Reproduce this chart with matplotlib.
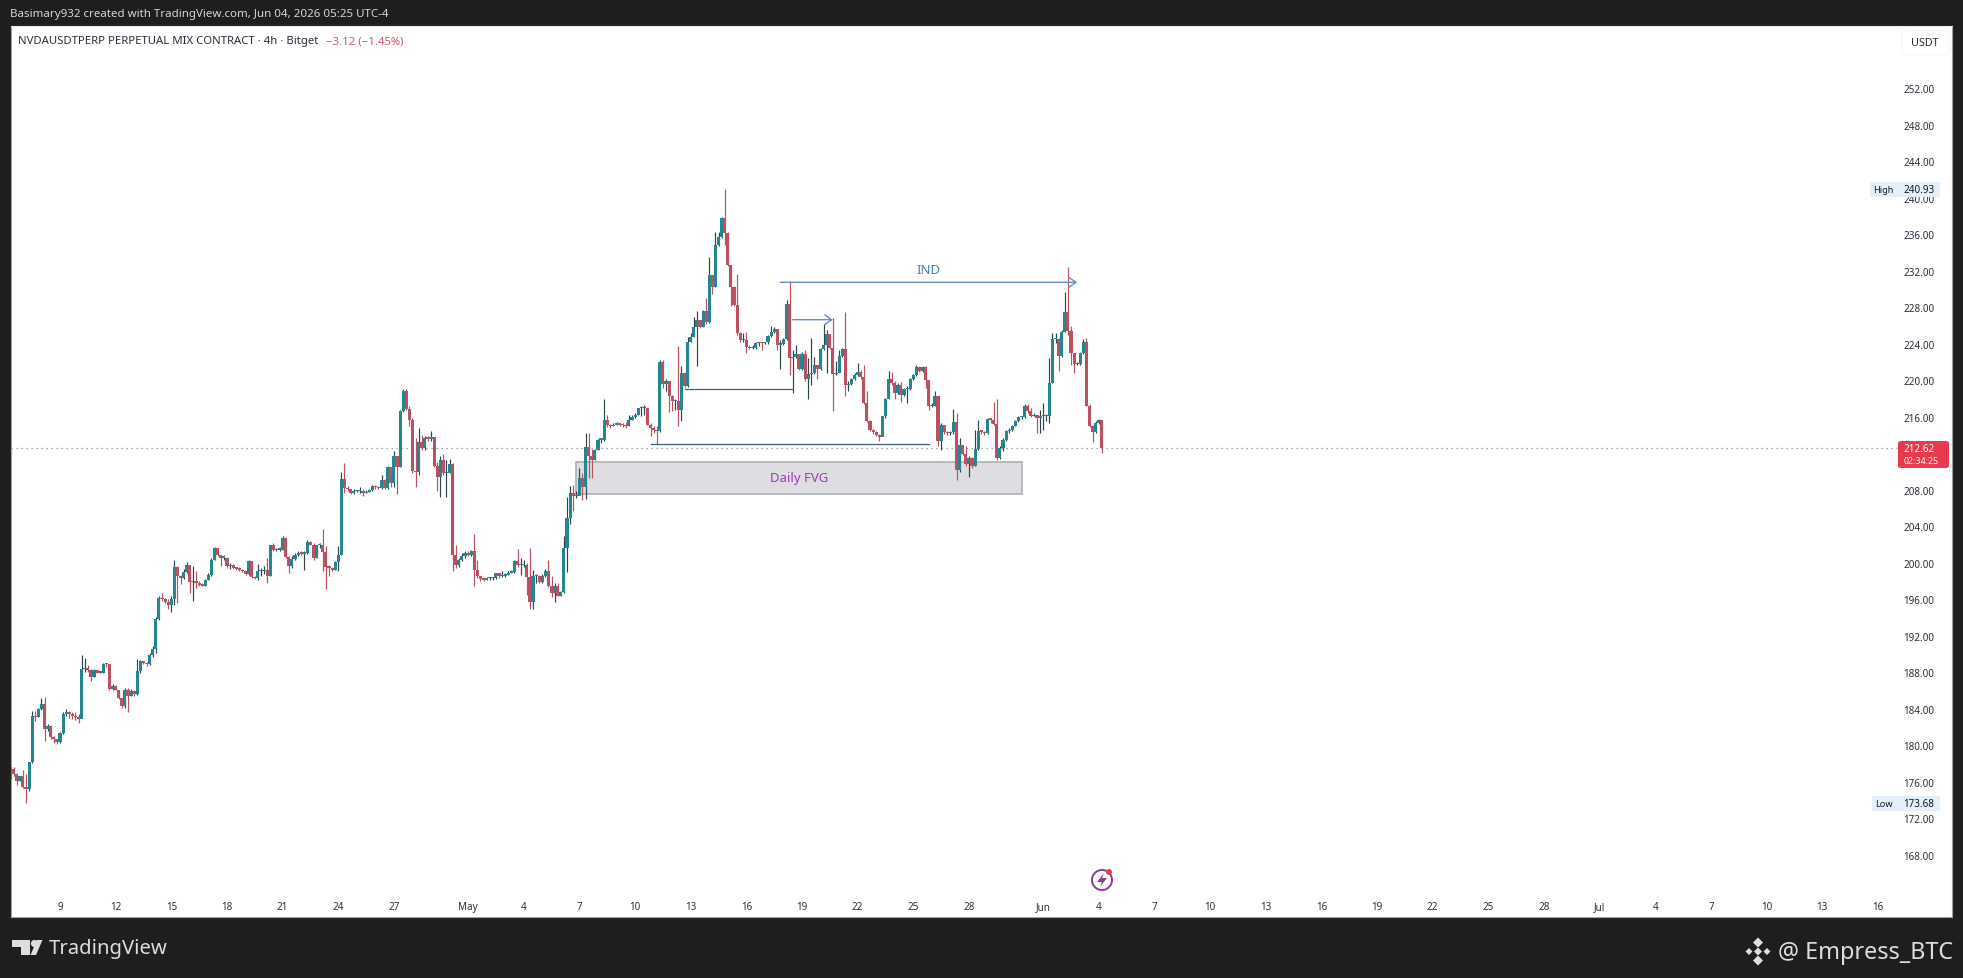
import numpy as np
import pandas as pd
import matplotlib
matplotlib.use("Agg")
import matplotlib.pyplot as plt
import matplotlib.dates as mdates
from matplotlib.patches import Rectangle, FancyBboxPatch, Circle, Polygon

first_open = 178.1
closes = [
177.55,177.4,176.8,176.1,176.6,175.4,175.2,178.1,183.2,183.1,184.0,184.5,181.75,182.1,180.85,180.65,180.3,181.3,183.4,183.65,
183.4,183.2,183.1,182.9,188.3,188.5,188.25,187.5,188.25,187.95,187.95,188.9,188.85,186.2,186.5,186.1,185.2,184.3,186.05,185.4,
185.95,185.6,188.15,189.25,189.0,188.85,189.85,190.5,193.8,196.15,196.0,195.7,195.4,196.0,199.55,198.55,198.35,199.0,199.7,197.9,
198.0,197.75,197.6,197.5,198.15,198.7,200.35,201.65,200.9,200.55,200.55,199.65,199.8,199.45,199.35,199.25,199.1,198.8,200.2,198.45,
198.35,199.1,199.1,199.25,198.55,201.95,201.4,201.45,201.45,202.75,200.65,199.65,200.45,200.9,201.1,201.0,201.1,202.3,202.0,200.55,
201.9,202.0,201.2,199.5,199.45,199.25,200.05,200.9,209.2,208.2,208.05,207.6,207.85,207.85,207.85,207.65,207.75,207.95,208.4,208.3,
208.2,209.1,208.2,210.5,208.7,211.75,210.5,216.6,218.8,216.85,215.6,210.05,209.9,213.2,212.6,213.7,213.6,213.8,210.65,209.4,
211.3,209.85,209.85,210.85,200.8,199.7,200.35,200.7,201.1,200.9,201.25,199.25,198.55,198.25,198.15,198.3,198.3,198.3,198.9,198.5,
198.6,198.7,198.9,199.0,200.2,199.7,199.7,199.7,198.45,195.7,198.55,198.55,197.9,198.55,199.1,197.45,196.7,197.5,196.4,196.75,
201.6,204.9,207.7,207.3,207.35,209.3,208.3,212.7,211.65,211.25,212.4,213.5,213.5,215.6,215.05,214.95,215.15,215.25,215.15,215.05,
214.95,215.7,216.0,216.25,216.95,216.95,216.95,215.15,214.75,214.6,214.4,222.0,219.65,219.9,218.25,217.7,217.7,216.7,220.85,219.35,
224.15,224.8,225.85,226.65,225.85,227.55,226.35,231.55,230.2,234.85,235.75,237.75,236.15,232.65,230.2,228.3,225.2,224.4,224.45,223.65,
223.55,223.55,224.1,224.15,224.1,224.15,224.9,225.35,225.6,223.9,224.0,224.5,228.35,222.45,222.55,222.9,221.25,222.9,220.15,220.7,
220.85,221.65,221.25,223.4,223.9,225.1,223.55,220.7,220.85,222.7,223.4,219.5,219.65,220.15,220.6,220.9,220.35,217.5,215.5,214.6,
214.3,214.05,213.8,216.05,217.95,220.15,219.7,218.6,219.5,218.4,219.05,219.05,220.15,220.6,221.45,221.0,221.45,220.0,217.15,217.2,
218.3,213.3,215.15,214.3,214.2,214.3,215.4,210.15,212.95,211.95,210.85,211.5,210.6,212.5,214.5,214.3,214.2,215.75,215.7,215.25,
211.5,212.6,213.5,214.4,214.6,215.0,215.5,215.95,215.95,217.15,216.6,216.1,216.15,215.85,216.1,216.1,216.1,219.75,224.5,224.5,
222.7,225.35,227.5,225.45,223.0,221.8,221.8,223.0,224.25,217.2,214.95,214.3,215.3,215.6,212.62]
highs = [
178.3,177.6,177.6,177.0,176.6,177.3,176.8,178.1,183.75,183.75,184.1,185.2,185.3,182.3,182.1,180.95,180.7,181.4,183.6,183.95,
183.75,183.65,183.6,183.4,189.85,189.6,188.75,188.4,188.3,188.25,188.1,189.0,189.0,188.85,186.65,186.55,186.1,185.2,186.3,186.3,
186.2,186.1,189.5,189.35,189.25,189.1,190.05,190.9,194.1,196.3,196.7,196.15,196.0,196.35,200.35,199.65,198.7,199.3,200.05,199.7,
199.65,199.05,198.0,197.8,198.25,198.9,200.55,201.7,201.65,200.9,200.8,200.65,200.0,199.9,199.55,199.5,199.35,199.1,200.25,200.2,
198.6,199.9,199.45,199.65,200.55,202.0,202.2,201.65,201.75,202.9,202.85,200.7,200.7,201.1,201.25,201.25,201.25,202.5,202.35,202.2,
202.0,202.2,203.65,201.8,199.7,199.55,200.2,201.8,209.9,210.9,208.4,208.1,208.05,208.0,208.3,208.05,207.95,208.1,208.55,208.55,
208.45,209.65,209.2,210.65,210.5,212.2,211.75,216.7,219.05,219.0,217.15,215.85,213.65,214.8,214.05,213.85,213.85,214.4,213.8,211.1,
211.75,211.95,211.3,211.4,210.95,202.0,200.55,201.1,201.25,201.25,201.45,203.2,200.35,198.55,198.35,198.45,198.45,198.45,198.9,198.8,
199.1,198.9,199.1,199.2,200.35,201.55,200.55,200.35,200.0,201.6,199.2,198.75,198.7,198.75,199.35,200.35,198.5,197.75,197.75,196.9,
202.9,207.2,208.45,208.55,207.85,210.4,209.85,214.2,214.2,212.45,212.45,213.55,213.65,217.95,216.25,215.25,215.35,215.4,215.35,215.35,
215.4,216.25,216.25,216.4,217.0,217.15,217.3,216.95,215.35,214.95,214.95,222.25,222.25,220.1,219.9,218.4,217.95,223.8,221.6,220.95,
224.8,225.2,227.0,227.55,226.65,227.75,229.0,233.5,231.55,236.3,236.3,237.9,240.93,236.3,232.65,230.35,231.65,225.25,225.2,225.25,
223.9,223.85,224.2,224.25,224.25,224.25,225.0,226.0,225.85,225.6,224.45,224.65,228.85,230.85,223.35,223.9,222.9,223.15,223.35,222.45,
224.65,222.6,221.7,223.55,226.2,225.55,225.1,226.8,222.1,223.35,223.55,227.45,219.9,220.25,220.8,221.9,221.1,221.7,218.8,215.7,
214.65,214.4,214.15,216.1,218.05,221.0,220.9,219.9,219.7,219.8,219.15,219.35,220.25,220.7,221.7,221.6,221.6,221.55,220.0,217.5,
218.8,218.3,215.3,215.15,214.5,214.45,216.85,216.4,213.7,212.95,212.85,211.65,211.6,214.6,215.7,214.6,214.45,215.85,215.85,217.6,
217.9,212.75,213.7,214.6,214.8,215.15,215.7,216.05,216.1,217.45,217.45,216.95,216.4,216.25,216.8,217.5,216.35,222.45,225.2,225.2,
224.65,225.55,229.65,232.4,226.0,223.05,222.05,223.15,224.5,224.65,217.45,215.15,215.5,215.75,215.7]
lows = [
175.8,176.3,176.6,175.6,176.1,175.3,173.68,175.0,178.0,182.7,183.1,183.9,180.4,181.6,180.7,180.2,180.1,180.2,181.2,183.2,
183.0,182.9,182.8,182.4,183.3,188.0,188.05,187.05,187.5,187.9,187.9,187.95,188.6,186.1,186.1,186.05,185.1,184.1,184.1,183.65,
185.35,185.4,185.5,187.9,188.85,188.7,188.75,189.7,190.15,193.7,195.8,195.55,194.9,194.6,195.4,195.55,197.7,198.25,198.9,196.7,
195.8,197.25,197.45,197.4,197.45,198.1,198.55,200.3,200.75,199.65,200.35,199.45,199.35,199.35,199.25,199.1,199.0,198.7,198.7,198.3,
198.25,198.15,198.55,198.8,197.8,198.55,201.3,201.3,201.3,201.4,200.55,198.85,199.45,200.35,200.7,200.8,199.25,201.0,201.9,200.35,
200.5,201.65,199.1,197.1,198.55,199.1,199.2,199.1,200.8,207.6,207.85,207.5,207.5,207.75,207.65,207.3,207.6,207.75,207.85,208.1,
208.05,208.1,208.05,208.1,208.3,208.3,207.5,210.5,216.5,216.7,215.0,209.85,208.3,209.65,212.4,212.4,213.3,213.4,210.5,207.85,
207.2,209.65,207.2,209.8,199.1,199.45,199.55,200.2,200.55,200.75,200.75,197.45,198.35,198.05,198.0,198.1,198.1,198.1,198.2,198.3,
198.4,198.45,198.7,198.85,198.9,199.55,198.7,199.55,196.5,194.95,194.95,197.8,197.75,197.8,198.45,197.35,196.25,195.7,196.35,196.35,
196.65,199.0,204.2,205.65,207.1,207.45,206.85,206.95,209.3,209.3,211.25,212.4,213.1,213.4,214.9,214.8,214.95,215.05,214.95,214.9,
214.75,214.95,215.6,215.9,216.2,216.1,216.2,215.05,213.85,214.2,213.05,214.3,219.15,218.8,216.5,216.6,216.8,214.95,215.5,219.25,
219.25,224.15,224.8,221.6,225.7,225.85,226.2,226.3,229.5,230.2,234.75,235.6,234.85,232.5,228.1,228.2,225.0,224.15,224.25,223.05,
223.45,223.45,223.45,223.8,223.35,223.95,224.0,224.8,225.2,223.3,221.25,223.9,224.45,220.6,218.6,222.45,221.1,221.15,219.9,217.95,
219.5,220.7,220.15,221.15,223.35,220.8,223.4,216.65,220.6,221.5,222.6,218.25,218.8,219.5,220.0,220.45,220.15,217.45,215.4,214.4,
214.15,213.85,213.4,214.05,215.85,217.9,219.5,217.95,218.55,217.6,218.3,217.5,218.95,220.0,220.5,220.9,220.9,219.15,216.7,217.05,
217.15,212.75,212.4,214.15,214.05,214.0,214.15,209.1,210.0,211.85,210.65,209.4,210.4,210.6,212.4,214.15,214.0,214.15,215.3,215.15,
211.3,211.4,212.2,213.4,214.2,214.4,214.95,215.4,215.75,215.85,216.4,216.0,216.05,214.2,214.2,214.6,215.5,215.3,219.7,224.1,
221.0,222.6,225.35,225.0,221.7,220.85,221.65,221.7,222.9,217.15,214.9,213.2,214.2,215.25,212.0]

last_candle = "2026-06-04 04:00"
price_ticks = [168,172,176,180,184,188,192,196,200,204,208,216,220,224,228,232,236,240,244,248,252]
time_ticks = ["2026-04-09","2026-04-12","2026-04-15","2026-04-18","2026-04-21","2026-04-24","2026-04-27","2026-05-01",
              "2026-05-04","2026-05-07","2026-05-10","2026-05-13","2026-05-16","2026-05-19","2026-05-22","2026-05-25",
              "2026-05-28","2026-06-01","2026-06-04","2026-06-07","2026-06-10","2026-06-13","2026-06-16","2026-06-19",
              "2026-06-22","2026-06-25","2026-06-28","2026-07-01","2026-07-04","2026-07-07","2026-07-10","2026-07-13","2026-07-16"]
time_labels = ["9","12","15","18","21","24","27","May","4","7","10","13","16","19","22","25","28","Jun","4","7","10","13","16","19","22","25","28","Jul","4","7","10","13","16"]

W, H = 1963, 979
FONT = "Noto Sans"
plt.rcParams["font.family"] = FONT
fig = plt.figure(figsize=(W/100, H/100), dpi=100, facecolor="#1e1e1e")
PL, PR, PT, PB = 10.5, 1952, 27, 918
ax = fig.add_axes([PL/W, 1-PB/H, (PR-PL)/W, (PB-PT)/H], facecolor="white")

def fx(px): return px/W
def fy(py): return 1-py/H

n = len(closes)
times = pd.date_range(end=last_candle, periods=n, freq="4h")
xs = mdates.date2num(times)
opens = np.array([first_open] + closes[:-1])
c = np.array(closes); hi = np.array(highs); lo = np.array(lows)
up = c >= opens
GREEN, RED = "#26868f", "#bb5060"
WICK_G, WICK_R = "#2f4448", "#bb5060"
bw = 3.1/18.55
ax.vlines(xs[up], lo[up], hi[up], color=WICK_G, lw=0.85, zorder=3)
ax.vlines(xs[~up], lo[~up], hi[~up], color=WICK_R, lw=0.85, zorder=3)
bottoms = np.minimum(opens, c)
heights = np.maximum(np.abs(c-opens), 0.14)
ax.bar(xs[up], heights[up], bottom=bottoms[up], width=bw, color=GREEN, edgecolor="none", zorder=4)
ax.bar(xs[~up], heights[~up], bottom=bottoms[~up], width=bw, color=RED, edgecolor="none", zorder=4)

d0 = mdates.date2num(pd.Timestamp("2026-04-09"))
px_day = 18.55
ax.set_xlim(d0+(PL-60)/px_day, d0+(PR-60)/px_day)
pp = 9.12
Y252 = 89.5
ax.set_ylim(252-(PB-Y252)/pp, 252+(Y252-PT)/pp)

def dn(s): return mdates.date2num(pd.Timestamp(s))

# Price line
ax.hlines(212.62, ax.get_xlim()[0], d0+(1897-60)/px_day, color="#8a8f98", lw=0.9,
          linestyles=(0,(1,3)), zorder=2)

# FVG box
ax.add_patch(Rectangle((dn("2026-05-06 20:00"), 207.5), dn("2026-05-30 20:00")-dn("2026-05-06 20:00"), 3.6,
                       facecolor="#dedee2", edgecolor="#b2b4ba", lw=1.3, zorder=1))
ax.text(dn("2026-05-18 20:00"), 209.3, "Daily FVG", color="#9c3db0", fontsize=9.5, ha="center", va="center", zorder=5)

# Structure lines
BLUE1, BLUE2 = "#6a8cbd", "#3d5f8f"
ax.plot([dn("2026-05-12 16:00"), dn("2026-05-18 12:00")], [219.0, 219.0], color=BLUE2, lw=0.9, zorder=5)
ax.plot([dn("2026-05-10 20:00"), dn("2026-05-25 20:00")], [213.0, 213.0], color=BLUE2, lw=0.9, zorder=5)
for a, b, yv in [("2026-05-17 20:00", "2026-06-02 20:00", 230.75), ("2026-05-18 12:00", "2026-05-20 16:00", 226.65)]:
    ax.annotate("", xy=(dn(b), yv), xytext=(dn(a), yv),
                arrowprops=dict(arrowstyle="->,head_length=0.5,head_width=0.35", color=BLUE1, lw=1.0,
                                shrinkA=0, shrinkB=0), zorder=5)
ax.text(dn("2026-05-25 20:00"), 232.1, "IND", color="#4f78b0", fontsize=9.5, ha="center", va="center", zorder=5)

# Axes ticks
ax.yaxis.tick_right()
ax.set_yticks(price_ticks, [f"{v:.2f}" for v in price_ticks])
ax.tick_params(axis="y", length=0, pad=-35, labelsize=7.1, labelcolor="#2a2e39")
ax.set_xticks([dn(t) for t in time_ticks], time_labels)
ax.tick_params(axis="x", length=0, pad=-11.5, labelsize=7.1, labelcolor="#2a2e39")
for s in ax.spines.values():
    s.set_color("#a0a0a0"); s.set_linewidth(0.8)
ax.spines["top"].set_color("#e8e8e8")

# Chrome
def box(x0, y0, x1, y1, color, z=5, round_=False, ec="none"):
    if round_:
        p = FancyBboxPatch((fx(x0), fy(y1)), fx(x1-x0), (y1-y0)/H, boxstyle="round,pad=0,rounding_size=0.002",
                           transform=fig.transFigure, facecolor=color, edgecolor=ec, lw=0.7, zorder=z)
    else:
        p = Rectangle((fx(x0), fy(y1)), fx(x1-x0), (y1-y0)/H, transform=fig.transFigure,
                      facecolor=color, edgecolor=ec, zorder=z)
    fig.add_artist(p)

def label(x, y, s, color="#131722", size=7.1, ha="center", **kw):
    fig.text(fx(x), fy(y), s, color=color, fontsize=size, ha=ha, va="center", zorder=6, **kw)

label(10, 15, "Basimary932 created with TradingView.com, Jun 04, 2026 05:25 UTC-4", color="#d6d6d6", size=8.3, ha="left")
label(18, 41.5, "NVDAUSDTPERP PERPETUAL MIX CONTRACT · 4h · Bitget", color="#2a2e39", size=8.15, ha="left")
label(326, 41.5, "−3.12 (−1.45%)", color="#c25f6b", size=8.15, ha="left")

box(1902, 32, 1949, 56, "#ffffff", round_=True, ec="#f0f3fa")
label(1925, 44, "USDT", color="#2a2e39", size=7.8)

box(1870, 183, 1940, 198, "#e6f0fb")
label(1883, 190.5, "High", size=6.6)
label(1919, 190.5, "240.93")
box(1872, 797, 1940, 812, "#e6f0fb")
label(1884, 804.5, "Low", size=6.6)
label(1919, 804.5, "173.68")

box(1898, 442, 1949, 469, "#e8394d", round_=True)
label(1904, 449.5, "212.62", color="white", ha="left")
label(1904, 461.5, "02:34:25", color="white", size=6.4, ha="left")

# Purple icon
fig.add_artist(Circle((1102, H-881), 10, transform=None, facecolor="white", edgecolor="#8e3a9d", lw=1.4, zorder=5))
fig.add_artist(Polygon([(1104,H-874),(1097,H-883),(1102,H-883),(1100,H-888),(1107,H-879),(1102,H-879)], closed=True,
                       transform=None, facecolor="#8e3a9d", edgecolor="none", zorder=6))
fig.add_artist(Circle((1109, H-873), 3, transform=None, facecolor="#e0404f", edgecolor="none", zorder=7))

# TradingView logo
LOGO = "#dedede"
fig.add_artist(Polygon([(12,H-941),(30,H-941),(30,H-956),(21,H-956),(21,H-948),(12,H-948)], closed=True,
                       transform=None, facecolor=LOGO, edgecolor="none", zorder=6))
fig.add_artist(Circle((34.5, H-944.5), 3.6, transform=None, facecolor=LOGO, edgecolor="none", zorder=6))
fig.add_artist(Polygon([(37,H-941),(42.5,H-941),(36,H-956),(30.5,H-956)], closed=True,
                       transform=None, facecolor=LOGO, edgecolor="none", zorder=6))
label(49, 949, "TradingView", color=LOGO, size=14.6, ha="left", fontweight="bold")

# Binance diamond + handle
def diamond(cx, cy, r):
    fig.add_artist(Polygon([(cx,H-cy+r),(cx+r,H-cy),(cx,H-cy-r),(cx-r,H-cy)], closed=True,
                           transform=None, facecolor="#dedede", edgecolor="none", zorder=6))
for cx, cy, r in [(1758,952.5,4),(1758,943.5,5),(1758,961.5,5),(1749,952.5,3.5),(1767,952.5,3.5)]:
    diamond(cx, cy, r)
label(1778, 953, "@ Empress_BTC", color="#dedede", size=16.8, ha="left")

fig.savefig("out.png", dpi=100, facecolor=fig.get_facecolor())
